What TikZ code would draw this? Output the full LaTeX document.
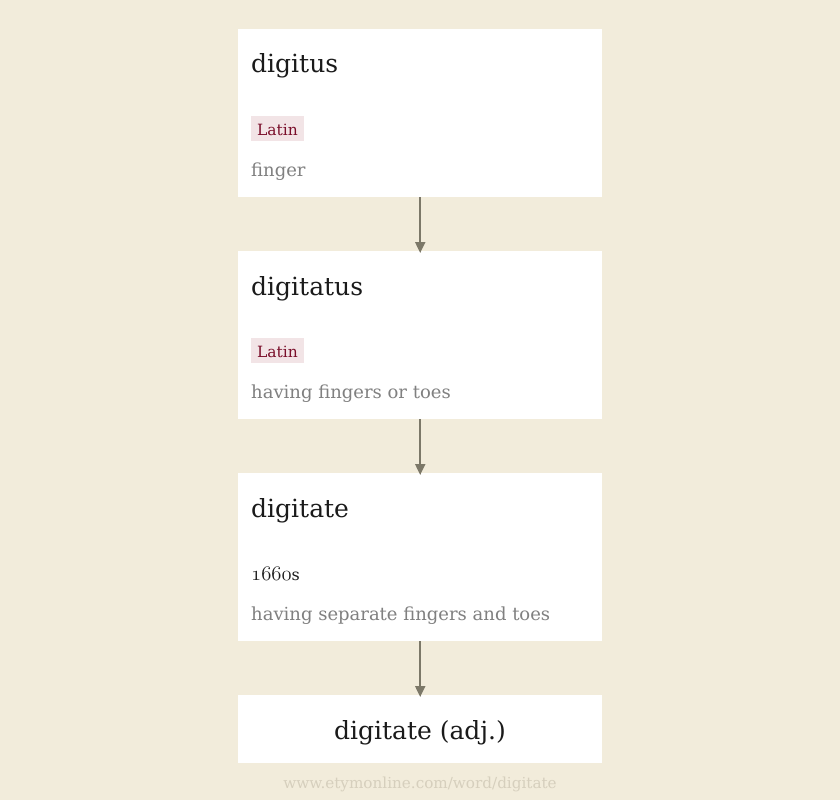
\documentclass[tikz,border=0pt]{standalone}
\usepackage{fontspec}
\setmainfont{DejaVu Serif}
\usetikzlibrary{arrows.meta}
\definecolor{bg}{RGB}{242,236,219}
\definecolor{arr}{RGB}{124,120,104}
\definecolor{tagbg}{RGB}{242,228,230}
\definecolor{tagfg}{RGB}{122,14,42}
\definecolor{gloss}{RGB}{128,128,128}
\definecolor{ttl}{RGB}{26,26,26}
\definecolor{url}{RGB}{214,207,189}
\tikzset{
  card/.style={fill=white, draw=none, inner sep=0pt, minimum width=364bp, anchor=north west},
  ttltext/.style={anchor=base west, inner sep=0pt, text=ttl, font=\fontsize{25bp}{30bp}\selectfont},
  tagtext/.style={anchor=base west, fill=tagbg, text=tagfg, inner xsep=6bp, inner ysep=0pt, text depth=6bp, text height=19bp, font=\fontsize{15.5bp}{18bp}\selectfont},
  glosstext/.style={anchor=base west, inner sep=0pt, text=gloss, font=\fontsize{18bp}{21bp}\selectfont},
  datetext/.style={anchor=base west, inner sep=0pt, text=ttl, font=\fontsize{16bp}{20bp}\selectfont},
  link/.style={draw=arr, line width=2bp, -{Triangle[length=11bp,width=10bp]}},
}
\begin{document}
\begin{tikzpicture}[x=1bp,y=-1bp]
\fill[bg] (0,0) rectangle (840,800);
\useasboundingbox (0,0) rectangle (840,800);
% cards
\node[card, minimum height=168bp] (c1) at (238,29) {};
\node[card, minimum height=168bp] (c2) at (238,251) {};
\node[card, minimum height=168bp] (c3) at (238,473) {};
\node[card, minimum height=68bp] (c4) at (238,695) {};
% card 1
\node[ttltext] (t1) at (251,73) {digitus};
\node[tagtext] (l1) at (251,135) {Latin};
\node[glosstext] (g1) at (251,176) {finger};
% card 2
\node[ttltext] (t2) at (251,295) {digitatus};
\node[tagtext] (l2) at (251,357) {Latin};
\node[glosstext] (g2) at (251,398) {having fingers or toes};
% card 3
\node[ttltext] (t3) at (251,517) {digitate};
\node[datetext] (d3) at (251,580) {\fontsize{20bp}{22bp}$\mathnormal{1660}$s};
\node[glosstext] (g3) at (251,620) {having separate fingers and toes};
% card 4
\node[ttltext, anchor=base] (t4) at (420,739) {digitate (adj.)};
% url
\node[anchor=base, inner sep=0pt, text=url, font=\fontsize{15.2bp}{18bp}\selectfont] (u) at (420,788) {www.etymonline.com/word/digitate};
% connectors
\draw[link] (c1.south) -- ([yshift=-2bp]c2.north);
\draw[link] (c2.south) -- ([yshift=-2bp]c3.north);
\draw[link] (c3.south) -- ([yshift=-2bp]c4.north);
\end{tikzpicture}
\end{document}
